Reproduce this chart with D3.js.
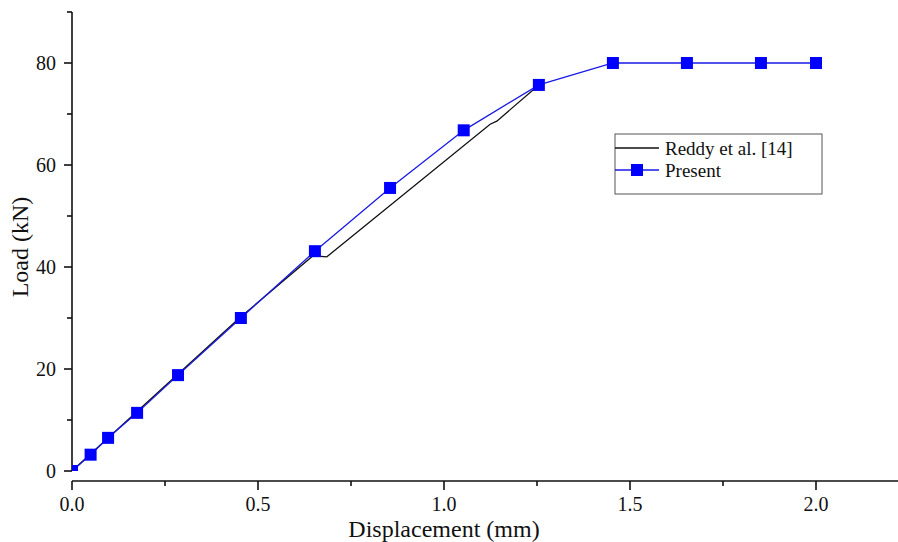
<!DOCTYPE html>
<html>
<head>
<meta charset="utf-8">
<script src="https://cdn.jsdelivr.net/npm/d3@7"></script>
<style>
  body { margin: 0; background: #fff; }
  text { font-family: "Liberation Serif", "Times New Roman", serif; fill: #111; }
</style>
</head>
<body>
<svg id="chart" width="898" height="542"></svg>
<script>
// data
const presentX = [0, 0.05, 0.097, 0.175, 0.285, 0.454, 0.653, 0.855, 1.053, 1.255, 1.454, 1.653, 1.852, 2.0];
const presentY = [0, 3.2, 6.5, 11.4, 18.8, 30.0, 43.1, 55.5, 66.8, 75.7, 80, 80, 80, 80];
const reddyX = [0, 0.45, 0.648, 0.685, 1.124, 1.142, 1.255];
const reddyY = [0, 30.0, 42.2, 42.0, 68.0, 68.6, 75.7];
const xTicks = [0, 0.5, 1.0, 1.5, 2.0];
const yTicks = [0, 20, 40, 60, 80];

const svg = d3.select("#chart");
const left = 72, bottom = 471, axisY = 481;

const x = d3.scaleLinear().domain([0, 2.0]).range([left, 816]);
const y = d3.scaleLinear().domain([0, 80]).range([bottom, 63]);

// y axis (ends at 90, minor ticks every 10)
const yAxis = svg.append("g").attr("transform", `translate(${left},0)`);
yAxis.append("line")
  .attr("x1", 0).attr("x2", 0)
  .attr("y1", y(90)).attr("y2", y(0))
  .attr("stroke", "#111").attr("stroke-width", 1.6);
d3.range(0, 91, 10).forEach(v => {
  const major = v % 20 === 0;
  yAxis.append("line")
    .attr("x1", major ? -8 : -5).attr("x2", 0)
    .attr("y1", y(v)).attr("y2", y(v))
    .attr("stroke", "#111").attr("stroke-width", 1.6);
});
yAxis.selectAll(".ylab")
  .data(yTicks)
  .enter()
  .append("text")
  .attr("x", -16)
  .attr("y", d => y(d) + 7)
  .attr("text-anchor", "end")
  .style("font-size", "20px")
  .text(d => d);

// x axis, offset below the plot
const xAxis = svg.append("g").attr("transform", `translate(0,${axisY})`);
xAxis.append("line")
  .attr("x1", left).attr("x2", 898)
  .attr("y1", 0).attr("y2", 0)
  .attr("stroke", "#111").attr("stroke-width", 1.6);
d3.range(0, 9).map(i => i * 0.25).forEach(v => {
  const major = Math.abs(v * 2 - Math.round(v * 2)) < 1e-9;
  xAxis.append("line")
    .attr("x1", x(v)).attr("x2", x(v))
    .attr("y1", 0).attr("y2", major ? 9 : 5)
    .attr("stroke", "#111").attr("stroke-width", 1.6);
});
xAxis.selectAll(".xlab")
  .data(xTicks)
  .enter()
  .append("text")
  .attr("x", d => x(d))
  .attr("y", 30)
  .attr("text-anchor", "middle")
  .style("font-size", "20px")
  .text(d => d3.format(".1f")(d));

// axis titles
svg.append("text")
  .attr("x", 444).attr("y", 537)
  .attr("text-anchor", "middle")
  .style("font-size", "24px")
  .text("Displacement (mm)");
svg.append("text")
  .attr("transform", "translate(28,247) rotate(-90)")
  .attr("text-anchor", "middle")
  .style("font-size", "24px")
  .text("Load (kN)");

// plot area clip
svg.append("clipPath").attr("id", "plot")
  .append("rect").attr("x", left).attr("y", 0)
  .attr("width", 898 - left).attr("height", bottom);

const plot = svg.append("g").attr("clip-path", "url(#plot)");
const line = d3.line().x(d => x(d[0])).y(d => y(d[1]));

const reddy = reddyX.map((d, i) => [d, reddyY[i]]);
const present = presentX.map((d, i) => [d, presentY[i]]);

plot.append("path")
  .datum(reddy)
  .attr("d", line)
  .attr("fill", "none")
  .attr("stroke", "#111")
  .attr("stroke-width", 1.3);

plot.append("path")
  .datum(present)
  .attr("d", line)
  .attr("fill", "none")
  .attr("stroke", "#1a1ae6")
  .attr("stroke-width", 1.3);

const ms = 12;
plot.selectAll(".pt")
  .data(present)
  .enter()
  .append("rect")
  .attr("x", d => x(d[0]) - ms / 2)
  .attr("y", d => y(d[1]) - ms / 2)
  .attr("width", ms).attr("height", ms)
  .attr("fill", "#0000ff");

// legend
const lg = svg.append("g").attr("transform", "translate(615,134)");
lg.append("rect")
  .attr("width", 207).attr("height", 60)
  .attr("fill", "#fff")
  .attr("stroke", "#555").attr("stroke-width", 1);
lg.append("line")
  .attr("x1", 0).attr("x2", 44).attr("y1", 14).attr("y2", 14)
  .attr("stroke", "#111").attr("stroke-width", 1.3);
lg.append("text").attr("x", 50).attr("y", 21)
  .style("font-size", "19px").text("Reddy et al. [14]");
lg.append("line")
  .attr("x1", 0).attr("x2", 44).attr("y1", 36).attr("y2", 36)
  .attr("stroke", "#1a1ae6").attr("stroke-width", 1.3);
lg.append("rect")
  .attr("x", 22 - 6).attr("y", 36 - 6).attr("width", 12).attr("height", 12)
  .attr("fill", "#0000ff");
lg.append("text").attr("x", 50).attr("y", 43)
  .style("font-size", "19px").text("Present");
</script>
</body>
</html>
